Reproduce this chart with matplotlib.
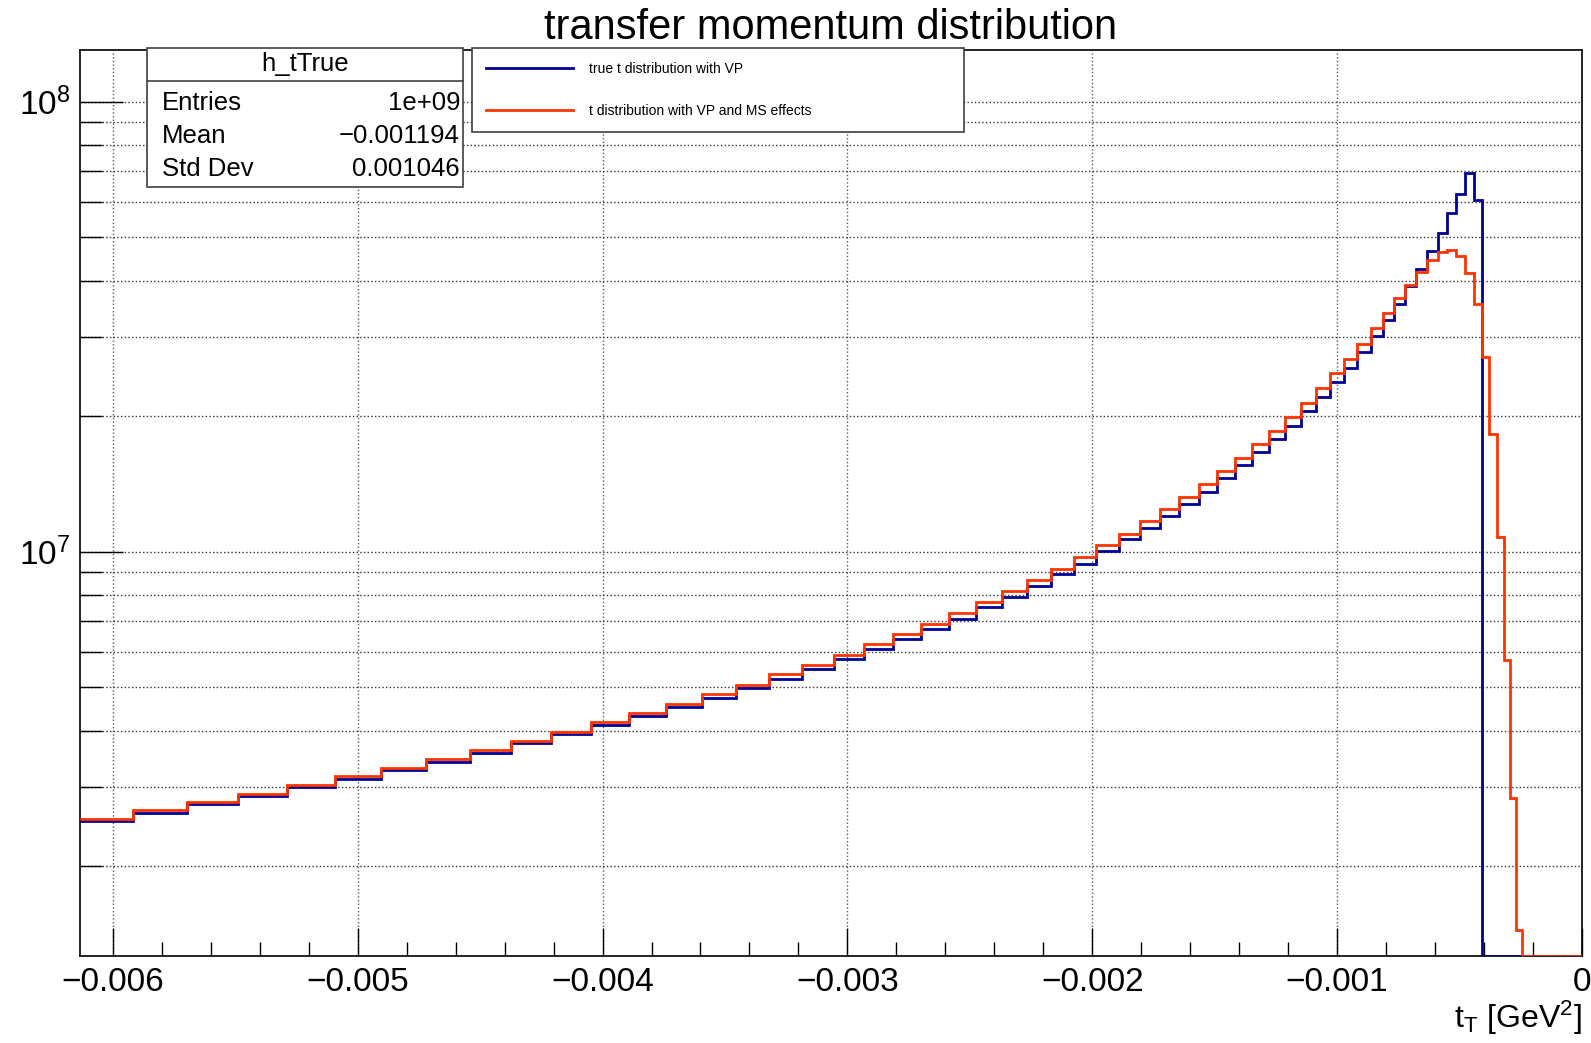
import numpy as np
import matplotlib.pyplot as plt
from matplotlib.ticker import LogLocator, NullFormatter, MultipleLocator, FuncFormatter
from matplotlib.patches import Rectangle
from matplotlib.lines import Line2D

plt.rcParams['font.family'] = ['Liberation Sans', 'DejaVu Sans']
plt.rcParams['mathtext.default'] = 'regular'

# variable bin edges, in units of 1e-3 GeV^2
edges_e3 = [-6.134, -5.916, -5.698, -5.487, -5.287, -5.092, -4.904, -4.721, -4.540,
            -4.375, -4.209, -4.047, -3.892, -3.741, -3.593, -3.455, -3.319, -3.185,
            -3.056, -2.934, -2.812, -2.699, -2.585, -2.473, -2.368, -2.266, -2.170,
            -2.074, -1.983, -1.891, -1.804, -1.722, -1.645, -1.565, -1.489, -1.416,
            -1.346, -1.277, -1.212, -1.148, -1.088, -1.029, -0.972, -0.919, -0.863,
            -0.813, -0.767, -0.722, -0.676, -0.635, -0.587, -0.551, -0.514, -0.479,
            -0.442, -0.409, -0.378, -0.349, -0.319, -0.296, -0.268, -0.244, 0.0]

# true t distribution with VP
true_vp = [2.525e6, 2.630e6, 2.754e6, 2.870e6, 3.000e6, 3.126e6, 3.278e6, 3.414e6,
           3.579e6, 3.752e6, 3.934e6, 4.114e6, 4.315e6, 4.525e6, 4.738e6, 4.987e6,
           5.222e6, 5.495e6, 5.766e6, 6.069e6, 6.397e6, 6.743e6, 7.097e6, 7.523e6,
           7.943e6, 8.401e6, 8.920e6, 9.404e6, 1.0036e7, 1.066e7, 1.127e7, 1.200e7,
           1.275e7, 1.359e7, 1.456e7, 1.555e7, 1.666e7, 1.780e7, 1.903e7, 2.055e7,
           2.207e7, 2.379e7, 2.564e7, 2.783e7, 3.016e7, 3.273e7, 3.547e7, 3.894e7,
           4.249e7, 4.667e7, 5.116e7, 5.649e7, 6.246e7, 6.934e7, 6.047e7,
           0, 0, 0, 0, 0, 0, 0]

# t distribution with VP and multiple scattering
vp_ms = [2.551e6, 2.667e6, 2.783e6, 2.895e6, 3.031e6, 3.178e6, 3.311e6, 3.462e6,
         3.631e6, 3.802e6, 3.981e6, 4.178e6, 4.375e6, 4.588e6, 4.821e6, 5.063e6,
         5.341e6, 5.592e6, 5.903e6, 6.226e6, 6.552e6, 6.918e6, 7.318e6, 7.719e6,
         8.178e6, 8.651e6, 9.139e6, 9.747e6, 1.033e7, 1.095e7, 1.170e7, 1.242e7,
         1.325e7, 1.416e7, 1.510e7, 1.614e7, 1.733e7, 1.855e7, 1.990e7, 2.137e7,
         2.307e7, 2.491e7, 2.685e7, 2.891e7, 3.147e7, 3.392e7, 3.657e7, 3.914e7,
         4.178e7, 4.449e7, 4.628e7, 4.683e7, 4.541e7, 4.169e7, 3.547e7, 2.704e7,
         1.827e7, 1.080e7, 5.745e6, 2.831e6, 1.443e6, 0]

stat_names = ['Entries', 'Mean', 'Std Dev']
stat_values = ['1e+09', '\u22120.001194', '0.001046']

edges = np.array(edges_e3) * 1e-3
ymin, ymax = 10**6.1016, 10**8.1149

W, H = 1591, 1043
fig = plt.figure(figsize=(W / 100, H / 100), dpi=100)
ax = fig.add_axes([80 / W, 1 - 956 / H, (1582 - 80) / W, (956 - 50) / H])

# empty bins sit on the bottom of the frame, like ROOT draws them
blue = np.where(np.array(true_vp) > 0, true_vp, ymin)
red = np.where(np.array(vp_ms) > 0, vp_ms, ymin)
ax.stairs(blue, edges, baseline=None, color='#000099', lw=2.0,
          label='true t distribution with VP', zorder=3)
ax.stairs(red, edges, baseline=None, color='#ff3300', lw=2.0,
          label='t distribution with VP and MS effects', zorder=4)

ax.set_yscale('log')
ax.set_xlim(edges[0], 0)
ax.set_ylim(ymin, ymax)


def xfmt(v, pos):
    if abs(v) < 1e-12:
        return '0'
    return f'{v:.3f}'.replace('-', '\u2212')


ax.xaxis.set_major_locator(MultipleLocator(0.001))
ax.xaxis.set_minor_locator(MultipleLocator(0.0002))
ax.xaxis.set_major_formatter(FuncFormatter(xfmt))
ax.yaxis.set_major_locator(LogLocator(base=10))
ax.yaxis.set_minor_locator(LogLocator(base=10, subs=np.arange(2, 10)))
ax.yaxis.set_minor_formatter(NullFormatter())

ax.tick_params(axis='x', which='major', direction='in', length=20, width=1, labelsize=24, pad=8)
ax.tick_params(axis='x', which='minor', direction='in', length=10, width=1)
ax.tick_params(axis='y', which='major', direction='in', length=31, width=1, labelsize=24, pad=7)
ax.tick_params(axis='y', which='minor', direction='in', length=16, width=1)
ax.tick_params(top=False, right=False, which='both')

ax.grid(True, axis='x', which='major', ls=':', color='0.35', lw=1)
ax.grid(True, axis='y', which='both', ls=':', color='0.2', lw=1)
for s in ax.spines.values():
    s.set_linewidth(1.2)

ax.set_xlabel('$t_{T}$ [GeV$^{2}$]', fontsize=23, loc='right')
ax.xaxis.set_label_coords(1.0, -0.047)

fig.text(831 / W, 1 - 28 / H, 'transfer momentum distribution', fontsize=30,
         ha='center', va='center')

leg = ax.legend(loc='upper left', bbox_to_anchor=(472 / W, 1 - 135 / H, (964 - 472) / W, 87 / H),
                bbox_transform=fig.transFigure, mode='expand', borderaxespad=0,
                fontsize=10, handlelength=6.3, handletextpad=1.15, labelspacing=2.0,
                borderpad=1.0, fancybox=False, framealpha=1, edgecolor='0.25')
leg.get_frame().set_linewidth(1.2)
leg.set_zorder(10)

# statistics box
bx0, bx1, by0, by1 = 147, 463, 48, 187
fig.add_artist(Rectangle((bx0 / W, 1 - by1 / H), (bx1 - bx0) / W, (by1 - by0) / H,
                         transform=fig.transFigure, facecolor='white', edgecolor='0.25',
                         lw=1.2, zorder=5))
fig.add_artist(Line2D([bx0 / W, bx1 / W], [1 - 81 / H, 1 - 81 / H], transform=fig.transFigure,
                      color='0.25', lw=1.2, zorder=6))
fig.text((bx0 + bx1) / 2 / W, 1 - 64.5 / H, 'h_tTrue', fontsize=18.5, ha='center',
         va='center', zorder=7)
for name, val, yp in zip(stat_names, stat_values, [102.5, 136, 168.5]):
    fig.text(162 / W, 1 - yp / H, name, fontsize=18.5, ha='left', va='center', zorder=7)
    fig.text(460 / W, 1 - yp / H, val, fontsize=18.5, ha='right', va='center', zorder=7)

fig.savefig('out.png', dpi=100)
